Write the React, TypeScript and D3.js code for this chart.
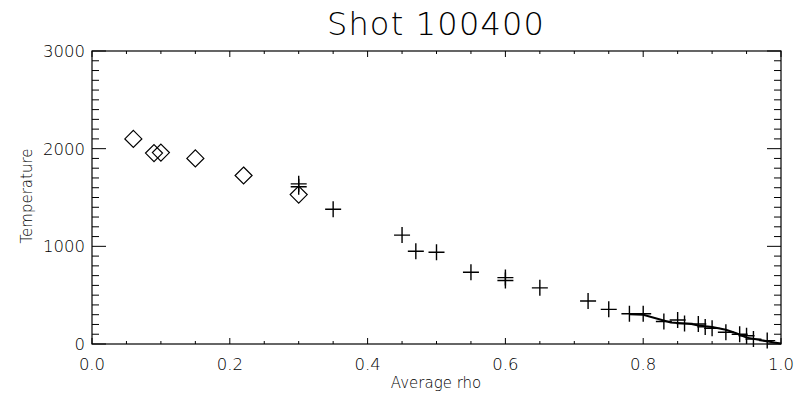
import React from "react";
import * as d3 from "d3";

const title = "Shot 100400";
const xLabel = "Average rho";
const yLabel = "Temperature";

const diamondRho = [0.06, 0.09, 0.1, 0.15, 0.22, 0.3];
const diamondTemp = [2100, 1955, 1960, 1900, 1725, 1530];

const crossRho = [0.3, 0.3, 0.35, 0.45, 0.47, 0.5, 0.55, 0.6, 0.6, 0.65, 0.72, 0.75, 0.78, 0.8, 0.83, 0.85, 0.86, 0.88, 0.89, 0.9, 0.92, 0.94, 0.95, 0.96, 0.98];
const crossTemp = [1640, 1610, 1380, 1115, 950, 940, 735, 680, 650, 575, 440, 355, 310, 310, 230, 245, 210, 205, 175, 160, 120, 100, 85, 50, 35];

const lineRho = [0.78, 0.8, 0.84, 0.87, 0.88, 0.9, 0.92, 0.935, 0.95, 0.97, 0.99, 1.0];
const lineTemp = [305, 300, 220, 205, 190, 175, 145, 110, 65, 40, 15, 5];

const xTickLabels = ["0.0", "0.2", "0.4", "0.6", "0.8", "1.0"];
const yTickLabels = ["0", "1000", "2000", "3000"];

export default function App() {
  const W = 803, H = 402;
  const left = 92, right = 781, top = 51, bottom = 344;
  const x = d3.scaleLinear().domain([0, 1]).range([left, right]);
  const y = d3.scaleLinear().domain([0, 3000]).range([bottom, top]);
  const xMajor = x.ticks(5);
  const xMinor = x.ticks(20);
  const yMajor = y.ticks(3);
  const yMinor = y.ticks(30);
  const font = "'DejaVu Sans', sans-serif";
  const line = d3.line<number>().x((_, i) => x(lineRho[i])).y((_, i) => y(lineTemp[i]));
  const xTL = 6, yTL = 14;
  return (
    <svg width={W} height={H} style={{ position: "absolute", left: 0, top: 0, background: "#fff" }}>
      <rect x={0} y={0} width={W} height={H} fill="#fff" />
      <text x={436} y={35} textAnchor="middle" fontFamily={font} fontWeight={200} fontSize={32} letterSpacing={1.2} fill="#000">{title}</text>
      <rect x={left} y={top} width={right - left} height={bottom - top} fill="none" stroke="#000" strokeWidth={1.2} />
      {xMinor.map((t, i) => {
        const isMajor = xMajor.some((m) => Math.abs(m - t) < 1e-9);
        const L = isMajor ? xTL : xTL / 2;
        return (
          <g key={"xm" + i}>
            <line x1={x(t)} x2={x(t)} y1={bottom} y2={bottom - L} stroke="#000" strokeWidth={1} />
            <line x1={x(t)} x2={x(t)} y1={top} y2={top + L} stroke="#000" strokeWidth={1} />
          </g>
        );
      })}
      {yMinor.map((t, i) => {
        const isMajor = yMajor.some((m) => Math.abs(m - t) < 1e-9);
        const L = isMajor ? yTL : yTL / 2;
        return (
          <g key={"ym" + i}>
            <line x1={left} x2={left + L} y1={y(t)} y2={y(t)} stroke="#000" strokeWidth={1} />
            <line x1={right} x2={right - L} y1={y(t)} y2={y(t)} stroke="#000" strokeWidth={1} />
          </g>
        );
      })}
      {xMajor.map((t, i) => (
        <text key={"xl" + i} x={x(t)} y={370} textAnchor="middle" fontFamily={font} fontWeight={200} fontSize={16.5} fill="#000">{xTickLabels[i]}</text>
      ))}
      {yMajor.map((t, i) => (
        <text key={"yl" + i} x={85} y={y(t) + 6} textAnchor="end" fontFamily={font} fontWeight={200} fontSize={16.5} fill="#000">{yTickLabels[i]}</text>
      ))}
      <text x={436} y={388} textAnchor="middle" fontFamily={font} fontWeight={200} fontSize={15} fill="#000">{xLabel}</text>
      <text transform={`translate(32,196) rotate(-90)`} textAnchor="middle" fontFamily={font} fontWeight={200} fontSize={15} fill="#000">{yLabel}</text>
      <path d={line(lineRho) || ""} fill="none" stroke="#000" strokeWidth={2} />
      {diamondRho.map((r, i) => {
        const cx = x(r), cy = y(diamondTemp[i]), s = 8.5;
        return <path key={"d" + i} d={`M${cx},${cy - s}L${cx + s},${cy}L${cx},${cy + s}L${cx - s},${cy}Z`} fill="none" stroke="#000" strokeWidth={1.2} />;
      })}
      {crossRho.map((r, i) => {
        const cx = x(r), cy = y(crossTemp[i]), s = 8;
        return <path key={"c" + i} d={`M${cx - s},${cy}H${cx + s}M${cx},${cy - s}V${cy + s}`} fill="none" stroke="#000" strokeWidth={1.4} />;
      })}
    </svg>
  );
}
